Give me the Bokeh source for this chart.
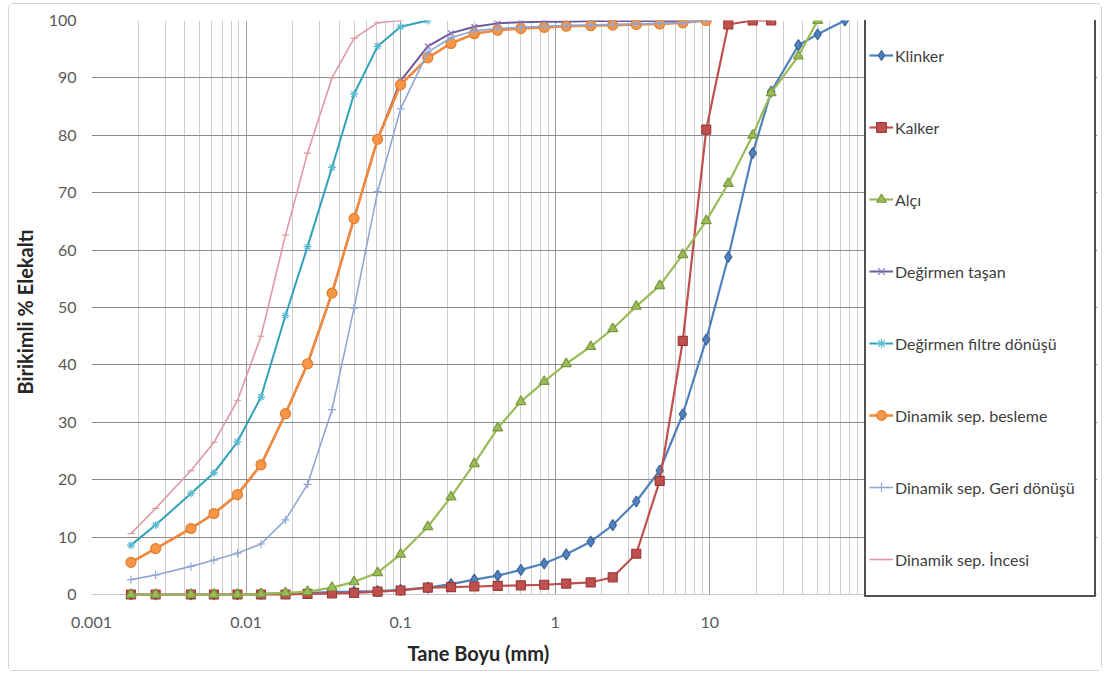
from bokeh.plotting import figure
from bokeh.models import (Range1d, FixedTicker, CustomJSTickFormatter, Legend, LegendItem,
                          Title, BoxAnnotation)
from bokeh.embed import file_html
from bokeh.resources import INLINE

# Sieve / laser particle sizes (mm)
size_fine = [0.0018, 0.0026, 0.0044, 0.0062, 0.0088, 0.0125, 0.018, 0.025, 0.036, 0.05, 0.071, 0.1]
size_coarse = [0.15, 0.212, 0.3, 0.425, 0.6, 0.85, 1.18, 1.7, 2.36, 3.35, 4.75, 6.7, 9.5,
               13.2, 19, 25, 37.5, 50, 75]
sizes = size_fine + size_coarse

# Cumulative % passing for each material / stream
klinker = [0, 0, 0, 0, 0, 0.1, 0.2, 0.3, 0.4, 0.5, 0.6, 0.8,
           1.2, 1.8, 2.6, 3.3, 4.3, 5.4, 7.0, 9.2, 12.1, 16.2, 21.6, 31.4, 44.4,
           58.8, 76.9, 87.6, 95.7, 97.6, 100]
kalker = [0, 0, 0, 0, 0, 0, 0, 0.1, 0.2, 0.3, 0.5, 0.7,
          1.2, 1.3, 1.4, 1.5, 1.6, 1.7, 1.9, 2.1, 3.0, 7.1, 19.8, 44.2, 81.0,
          99.3, 100, 100]
alci = [0, 0, 0, 0, 0, 0.1, 0.3, 0.5, 1.2, 2.2, 3.8, 7.0,
        11.8, 17.0, 22.8, 29.0, 33.6, 37.1, 40.2, 43.2, 46.3, 50.2, 53.8, 59.2, 65.1,
        71.6, 80.0, 87.4, 93.8, 100]
degirmen_tasan = [5.6, 8.0, 11.5, 14.1, 17.4, 22.6, 31.5, 40.2, 52.5, 65.5, 79.3, 89.5,
                  95.5, 97.8, 98.9, 99.5, 99.7, 99.8, 99.8, 99.9, 99.9, 99.9, 99.9, 99.9, 100]
degirmen_filtre = [8.6, 12.1, 17.6, 21.2, 26.6, 34.4, 48.6, 60.6, 74.4, 87.2, 95.5, 98.9,
                   100]
dinamik_besleme = [5.6, 8.0, 11.5, 14.1, 17.4, 22.6, 31.5, 40.2, 52.5, 65.5, 79.3, 88.8,
                   93.5, 96.0, 97.7, 98.3, 98.6, 98.8, 99.0, 99.1, 99.2, 99.3, 99.4, 99.6, 100]
dinamik_geri = [2.6, 3.4, 4.9, 6.0, 7.2, 8.8, 13.0, 19.2, 32.2, 49.9, 70.2, 84.6,
                94.5, 97.0, 98.2, 98.6, 98.8, 99.0, 99.1, 99.2, 99.3, 99.4, 99.5, 99.6, 100]
dinamik_incesi = [10.6, 15.0, 21.6, 26.5, 33.8, 45.0, 62.6, 76.9, 90.0, 96.9, 99.6, 100]

series_names = ["Klinker", "Kalker", "Alçı", "Değirmen taşan", "Değirmen filtre dönüşü",
                "Dinamik sep. besleme", "Dinamik sep. Geri dönüşü", "Dinamik sep. İncesi"]
series_values = [klinker, kalker, alci, degirmen_tasan, degirmen_filtre,
                 dinamik_besleme, dinamik_geri, dinamik_incesi]

x_tick_values = [0.001, 0.01, 0.1, 1, 10]
y_tick_values = [0, 10, 20, 30, 40, 50, 60, 70, 80, 90, 100]
x_min, x_max = 0.001, 100
y_min, y_max = 0, 100

# line colour, line width, marker, marker size, marker fill, marker outline
styles = [
    ("#4F81BD", 2.2, "diamond", 11, "#4F81BD", "#3A6699"),
    ("#C0504D", 2.2, "square", 9, "#C0504D", "#9A3B39"),
    ("#9BBB59", 2.2, "triangle", 10, "#9BBB59", "#7A9A3E"),
    ("#6F5A9C", 2.0, "x", 8, "#8A77B5", "#8A77B5"),
    ("#31A2B8", 2.0, "asterisk", 8, "#5BBAD0", "#5BBAD0"),
    ("#F28A3C", 2.6, "circle", 10, "#F79646", "#E07F30"),
    ("#8FA6D6", 1.6, "cross", 8, "#8FA6D6", "#8FA6D6"),
    ("#DE9AA6", 1.6, "dash", 7, "#DE9AA6", "#DE9AA6"),
]

FONT = "Lato"

# Geometry: 775 px for the five decades, a 234 px legend strip to the right
# of it inside the same frame, and a small strip under 0 % so that markers
# sitting on the zero line are drawn whole.
PLOT_PX = 775
PLOT_PY = 575
LEGEND_PX = 234
BELOW_PX = 9
decade_px = PLOT_PX / 5.0
x_end = x_max * 10 ** (LEGEND_PX / decade_px)
y_start = y_min - BELOW_PX * (y_max - y_min) / PLOT_PY

p = figure(width=1094, height=668,
           x_axis_type="log",
           x_range=Range1d(x_min, x_end), y_range=Range1d(y_start, y_max),
           output_backend="svg", toolbar_location=None,
           min_border_left=79, min_border_right=6,
           min_border_top=16, min_border_bottom=68,
           margin=(3, 0, 0, 8),
           styles={"border": "1px solid #d4d4d4", "border-radius": "5px"},
           background_fill_color="white", border_fill_color="white")

p.outline_line_color = None

# axes
p.xaxis.ticker = FixedTicker(
    ticks=x_tick_values,
    minor_ticks=[m * d for d in [0.001, 0.01, 0.1, 1, 10] for m in range(2, 10)] + [x_max])
p.xaxis.formatter = CustomJSTickFormatter(code="return tick.toString()")
p.yaxis.ticker = FixedTicker(ticks=y_tick_values)

for ax in (p.xaxis, p.yaxis):
    ax.axis_line_color = None
    ax.major_tick_out = 0
    ax.major_tick_in = 0
    ax.minor_tick_out = 0
    ax.minor_tick_in = 0
    ax.major_label_text_font = FONT
    ax.major_label_text_font_size = "16px"
    ax.major_label_text_color = "#595959"
    ax.axis_label_text_font = FONT
    ax.axis_label_text_font_size = "20px"
    ax.axis_label_text_font_style = "bold"
    ax.axis_label_text_color = "#262626"

p.yaxis.axis_label = "Birikimli % Elekaltı"
p.xaxis.major_label_standoff = 13
p.yaxis.major_label_standoff = 15
p.yaxis.axis_label_standoff = 9

# x axis title, centred under the decades part of the frame
p.add_layout(Title(text="Tane Boyu (mm)", align="left", offset=316, standoff=16,
                   text_font=FONT, text_font_size="20px", text_font_style="bold",
                   text_color="#262626"), "below")

# grid
p.xgrid.grid_line_color = "#9a9a9a"
p.xgrid.minor_grid_line_color = "#cdcdcd"
p.ygrid.grid_line_color = "#8c8c8c"

# blank strip under the zero line (covers the grid, stays under the series)
p.add_layout(BoxAnnotation(bottom=y_start, top=y_min, fill_color="white", fill_alpha=1.0,
                           line_color=None, level="underlay"))

items = []
for name, ys, (lc, lw, mk, ms, fc, mc) in zip(series_names, series_values, styles):
    xs = sizes[:len(ys)]
    r_line = p.line(xs, ys, line_color=lc, line_width=lw)
    r_mark = p.scatter(xs, ys, marker=mk, size=ms, fill_color=fc, line_color=mc, line_width=1.2)
    items.append(LegendItem(label=name, renderers=[r_line, r_mark]))

legend = Legend(items=items, location=(PLOT_PX - 2, BELOW_PX - 3),
                orientation="vertical",
                padding=3, spacing=6, margin=0,
                glyph_width=24, glyph_height=66, label_height=66,
                label_standoff=2, label_width=LEGEND_PX - 3 - 35,
                label_text_font=FONT, label_text_font_size="16px",
                label_text_color="#404040", label_text_baseline="middle",
                border_line_color="#505050", border_line_width=2, border_line_alpha=1.0,
                background_fill_color="white", background_fill_alpha=1.0)
p.add_layout(legend)

open("out.html", "w").write(file_html(p, INLINE))
